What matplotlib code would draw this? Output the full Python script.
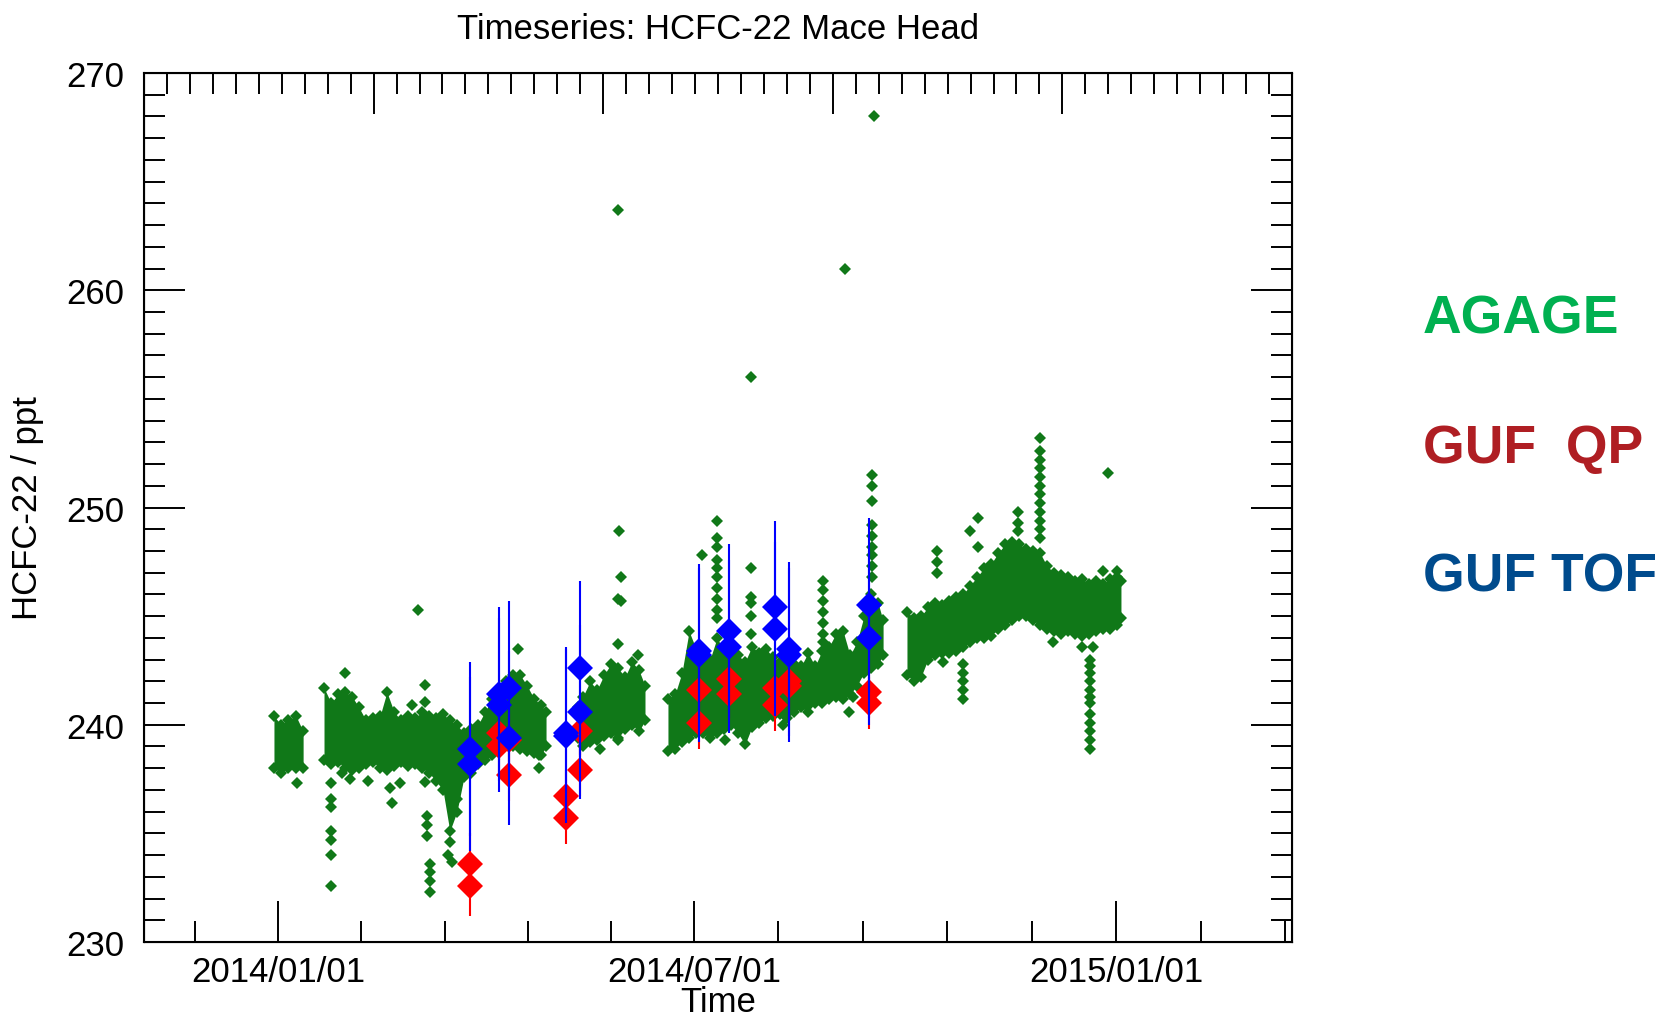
import numpy as np
import matplotlib
matplotlib.use("Agg")
import matplotlib.pyplot as plt
import matplotlib.dates as mdates
from matplotlib.ticker import FixedLocator, MultipleLocator, NullFormatter

plt.rcParams['font.family'] = ['Liberation Sans', 'DejaVu Sans']

# AGAGE in-situ record: upper / lower edge of the dense band, per ~3 day column
# (days since 2014-01-01)
band_day = [-1.9, 1.2, 4.2, 7.7, 10.8,
            19.9, 23.0, 26.0, 29.1, 32.1, 35.1, 38.2, 41.2, 44.3, 47.3, 50.4, 53.4,
            56.5, 59.5, 62.6, 65.6, 68.7, 71.7, 74.7, 77.8, 80.9, 83.9, 87.0, 90.0,
            93.1, 96.1, 99.2, 102.2, 105.3, 108.3, 111.4, 114.4, 116.6,
            130.6, 132.7, 135.8, 138.8, 141.9, 144.9, 148.0, 151.0, 154.1, 157.1, 159.7,
            169.7, 172.8, 175.8, 178.9, 181.9, 185.0, 188.0, 191.1, 194.1, 197.2, 200.2,
            203.3, 206.3, 209.4, 212.4, 215.5, 218.5, 221.6, 224.6, 227.7, 230.7, 233.8,
            236.8, 239.9, 242.9, 246.0, 249.0, 252.0, 255.1, 258.2, 261.2, 263.4,
            273.8, 276.8, 279.9, 282.9, 286.0, 289.0, 292.1, 295.1, 298.2, 301.2, 304.3,
            307.3, 310.4, 313.5, 316.5, 319.6, 322.6, 325.7, 328.7, 331.8, 334.8, 337.9,
            340.9, 344.0, 347.0, 350.1, 353.1, 356.1, 359.2, 362.2, 365.3, 367.0]
band_hi = [240.4, 240.0, 240.2, 240.4, 239.7,
           241.7, 241.0, 241.4, 241.5, 241.3, 240.8, 240.2, 240.3, 240.4, 241.5, 240.6, 240.2,
           240.4, 240.3, 240.6, 240.4, 240.3, 240.5, 240.2, 240.0, 239.6, 239.8, 240.0, 240.6,
           241.2, 241.4, 242.0, 242.3, 242.3, 241.8, 241.2, 240.9, 240.6,
           240.8, 241.3, 242.0, 241.6, 242.3, 242.8, 242.6, 242.2, 242.9, 242.5, 241.8,
           241.2, 241.4, 242.4, 244.3, 243.5, 243.3, 243.0, 244.0, 243.4, 243.6, 243.2,
           242.9, 243.6, 243.3, 243.5, 243.1, 242.9, 243.2, 242.8, 242.7, 243.3, 242.7,
           243.4, 243.6, 244.2, 244.3, 243.2, 243.8, 245.0, 246.0, 245.6, 244.8,
           245.2, 244.9, 245.0, 245.4, 245.6, 245.5, 245.7, 245.9, 246.0, 246.4, 246.8,
           247.2, 247.4, 247.9, 248.3, 248.4, 248.3, 248.1, 248.0, 247.9, 247.3, 247.0,
           246.9, 246.8, 246.6, 246.7, 246.5, 246.6, 246.5, 246.7, 246.8, 246.6]
band_lo = [238.0, 237.8, 238.0, 238.0, 238.0,
           238.4, 238.2, 238.3, 238.0, 237.9, 238.0, 238.2, 238.3, 238.0, 237.9, 238.1, 238.3,
           238.1, 238.2, 238.0, 237.8, 237.4, 237.0, 235.1, 236.0, 237.6, 237.8, 238.2, 238.4,
           238.6, 238.9, 239.1, 239.0, 238.9, 238.8, 238.7, 238.6, 239.0,
           239.4, 239.0, 239.2, 239.3, 239.5, 239.6, 239.4, 239.8, 240.0, 239.7, 240.2,
           238.8, 238.9, 239.2, 239.4, 239.6, 239.6, 239.4, 239.6, 239.8, 240.0, 239.6,
           239.1, 239.9, 240.1, 240.3, 240.4, 240.5, 240.3, 240.6, 240.8, 240.6, 241.0,
           241.0, 241.2, 241.3, 241.2, 241.4, 241.8, 242.4, 242.6, 242.8, 243.2,
           242.3, 242.0, 242.2, 243.0, 243.2, 243.3, 243.3, 243.4, 243.6, 243.8, 244.0,
           244.0, 244.1, 244.4, 244.6, 244.8, 245.0, 245.0, 244.8, 244.6, 244.4, 244.3,
           244.2, 244.3, 244.2, 244.1, 244.2, 244.3, 244.4, 244.4, 244.6, 244.9]

# AGAGE measurements lying outside the band (pollution events, dips)
agage_day = [8.0, 29.1,
             22.9, 22.9, 22.9, 22.9, 22.9, 22.9, 22.9,
             27.7, 31.2, 39.0, 48.6, 49.4, 53.0, 58.1, 60.9,
             63.9, 63.9, 63.9, 64.6, 64.6, 64.6, 66.1, 66.1, 66.1, 66.1,
             73.9, 74.8, 75.7, 77.7, 104.5, 113.5, 113.5,
             140.1, 147.8, 148.1, 148.1, 148.1, 148.4, 149.3, 149.3, 156.8,
             184.4,
             190.9, 190.9, 190.9, 190.9, 190.9, 190.9, 190.9, 190.9, 190.9, 190.9,
             194.6, 205.7, 205.7, 205.7, 205.7, 205.7, 205.8, 219.9,
             237.4, 237.4, 237.4, 237.4, 237.4, 237.4, 237.4,
             246.7, 248.7, 250.2,
             258.6, 258.6, 258.6, 258.6, 258.6, 258.6, 258.6, 258.6, 258.6,
             259.6,
             286.8, 286.8, 286.8, 289.5,
             298.3, 298.3, 298.3, 298.3, 298.3,
             301.3, 304.6, 304.6, 322.2, 322.2, 322.2,
             331.8, 331.8, 331.8, 331.8, 331.8, 331.8, 331.8, 331.8, 331.8, 331.8,
             331.8, 331.8,
             337.5, 349.9,
             353.5, 353.5, 353.5, 353.5, 353.5, 353.5, 353.5, 353.5, 353.5, 353.5,
             353.5, 353.5,
             355.0, 359.3, 361.3, 365.2]
agage_val = [237.3, 242.4,
             237.3, 236.6, 236.2, 235.1, 234.7, 234.0, 232.6,
             237.8, 237.5, 237.4, 237.1, 236.4, 237.3, 240.9, 245.3,
             241.85, 241.06, 237.35, 235.8, 235.4, 234.9, 233.6, 233.2, 232.8, 232.3,
             234.0, 234.6, 233.7, 236.6, 243.5, 238.6, 238.0,
             238.9, 263.7, 239.3, 243.7, 245.8, 248.9, 246.8, 245.7, 243.2,
             247.8,
             249.4, 248.6, 248.2, 247.6, 247.2, 246.8, 246.3, 245.8, 245.3, 244.9,
             239.3, 247.2, 245.9, 245.6, 245.0, 244.2, 256.0, 240.0,
             246.6, 246.2, 245.7, 245.2, 244.7, 244.2, 243.8,
             261.0, 240.6, 241.3,
             251.5, 251.0, 250.3, 249.2, 248.7, 248.2, 247.8, 247.3, 246.8,
             268.0,
             248.0, 247.5, 247.0, 242.9,
             242.8, 242.4, 242.0, 241.6, 241.2,
             248.9, 249.5, 248.2, 249.8, 249.3, 248.9,
             253.2, 252.6, 252.2, 251.8, 251.4, 251.0, 250.6, 250.2, 249.8, 249.4,
             249.0, 248.6,
             243.8, 243.6,
             243.0, 242.7, 242.4, 242.0, 241.6, 241.3, 241.0, 240.5, 240.1, 239.7,
             239.3, 238.9,
             243.6, 247.1, 251.6, 247.1]

# GUF flask samples, two analyses per sampling day
guf_day = [83.5, 83.5, 96.3, 96.3, 100.3, 100.3, 125.3, 125.3, 131.4, 131.4,
           183.4, 183.4, 196.4, 196.4, 216.5, 216.5, 222.3, 222.3, 257.4, 257.4]
qp_val = [233.6, 232.6, 239.6, 239.0, 239.3, 237.7, 236.7, 235.7, 239.7, 237.9,
          241.6, 240.1, 242.1, 241.4, 241.7, 240.9, 242.0, 241.8, 241.5, 241.0]
qp_err = [1.4, 1.4, 1.2, 1.2, 1.2, 1.2, 1.2, 1.2, 1.2, 1.2,
          1.2, 1.2, 1.2, 1.2, 1.2, 1.2, 1.2, 1.2, 1.2, 1.2]
tof_val = [238.9, 238.2, 241.4, 240.9, 241.7, 239.4, 239.6, 239.5, 242.6, 240.6,
           243.4, 243.2, 244.3, 243.6, 245.4, 244.4, 243.5, 243.2, 245.5, 244.0]
tof_err = [4.0] * len(tof_val)

GREEN = '#107818'
JD_EPOCH = 2440587.5            # Julian date of the matplotlib date epoch
T0 = mdates.date2num(np.datetime64('2014-01-01'))

fig = plt.figure(figsize=(16.56, 10.20), dpi=100)
ax = fig.add_axes([0.08696, 0.07549, 0.69324, 0.85196])

# dense AGAGE band, one polygon per measurement period
bd = np.array(band_day)
hi = np.array(band_hi)
lo = np.array(band_lo)
cuts = np.where(np.diff(bd) > 6)[0] + 1
for idx in np.split(np.arange(len(bd)), cuts):
    ax.fill_between(T0 + bd[idx], lo[idx], hi[idx], color=GREEN, lw=0, zorder=2)
for edge in (hi, lo):
    ax.plot(T0 + bd, edge, 'D', color=GREEN, ms=6.5, mew=0, zorder=2)
ax.plot(T0 + np.array(agage_day), agage_val, 'D', color=GREEN, ms=6.5, mew=0, zorder=2)

# GUF QP (red) and TOF (blue)
ax.errorbar(T0 + np.array(guf_day), qp_val, yerr=qp_err, fmt='D', color='red',
            ms=13.7, mew=0, elinewidth=1.5, capsize=0, zorder=4)
ax.errorbar(T0 + np.array(guf_day), tof_val, yerr=tof_err, fmt='D', color='blue',
            ms=13.7, mew=0, elinewidth=1.5, capsize=0, zorder=5)

ax.set_xlim(2456600 - JD_EPOCH, 2457100 - JD_EPOCH)
ax.set_ylim(230, 270)

majors = [mdates.date2num(np.datetime64(d)) for d in ('2014-01-01', '2014-07-01', '2015-01-01')]
m0, m1, m2 = majors
minors = list(np.linspace(m0, m1, 6)[1:-1]) + list(np.linspace(m1, m2, 6)[1:-1])
minors += [m0 - (m1 - m0) / 5, m2 + (m2 - m1) / 5, m2 + 2 * (m2 - m1) / 5]
ax.xaxis.set_major_locator(FixedLocator(majors))
ax.xaxis.set_minor_locator(FixedLocator(minors))
ax.xaxis.set_major_formatter(mdates.DateFormatter('%Y/%m/%d'))
ax.yaxis.set_major_locator(MultipleLocator(10))
ax.yaxis.set_minor_locator(MultipleLocator(1))

ax.tick_params(which='major', direction='in', length=29.5, width=1.4, labelsize=25)
ax.tick_params(which='minor', direction='in', length=15, width=1.4)
ax.tick_params(axis='x', which='both', top=False, pad=9)
ax.tick_params(axis='y', which='both', right=True, pad=14)
for s in ax.spines.values():
    s.set_linewidth(1.5)

# top axis: Julian day, no labels
top = ax.twiny()
top.set_xlim(2456600, 2457100)
top.xaxis.set_major_locator(MultipleLocator(100))
top.xaxis.set_minor_locator(MultipleLocator(10))
top.xaxis.set_major_formatter(NullFormatter())
top.tick_params(which='major', direction='in', length=29.5, width=1.4)
top.tick_params(which='minor', direction='in', length=15, width=1.4)
top.tick_params(axis='x', which='both', bottom=False, labeltop=False)

fig.text(0.4336, 1 - 39.3 / 1020, 'Timeseries: HCFC-22 Mace Head', ha='center',
         va='baseline', fontsize=25)
fig.text(0.4336, 1 - 1012 / 1020, 'Time', ha='center', va='baseline', fontsize=25)
fig.text(0.0165, 0.502, 'HCFC-22 / ppt', rotation=90, ha='center', va='center', fontsize=25)

fig.text(1423 / 1656, 1 - 334 / 1020, 'AGAGE', color='#00B050', fontsize=38.5,
         fontweight='bold', ha='left', va='baseline')
fig.text(1423 / 1656, 1 - 462.7 / 1020, 'GUF  QP', color='#AF1E23', fontsize=38.5,
         fontweight='bold', ha='left', va='baseline')
fig.text(1423 / 1656, 1 - 591 / 1020, 'GUF TOF', color='#004B8D', fontsize=38.5,
         fontweight='bold', ha='left', va='baseline')

fig.savefig('out.png', dpi=100)
